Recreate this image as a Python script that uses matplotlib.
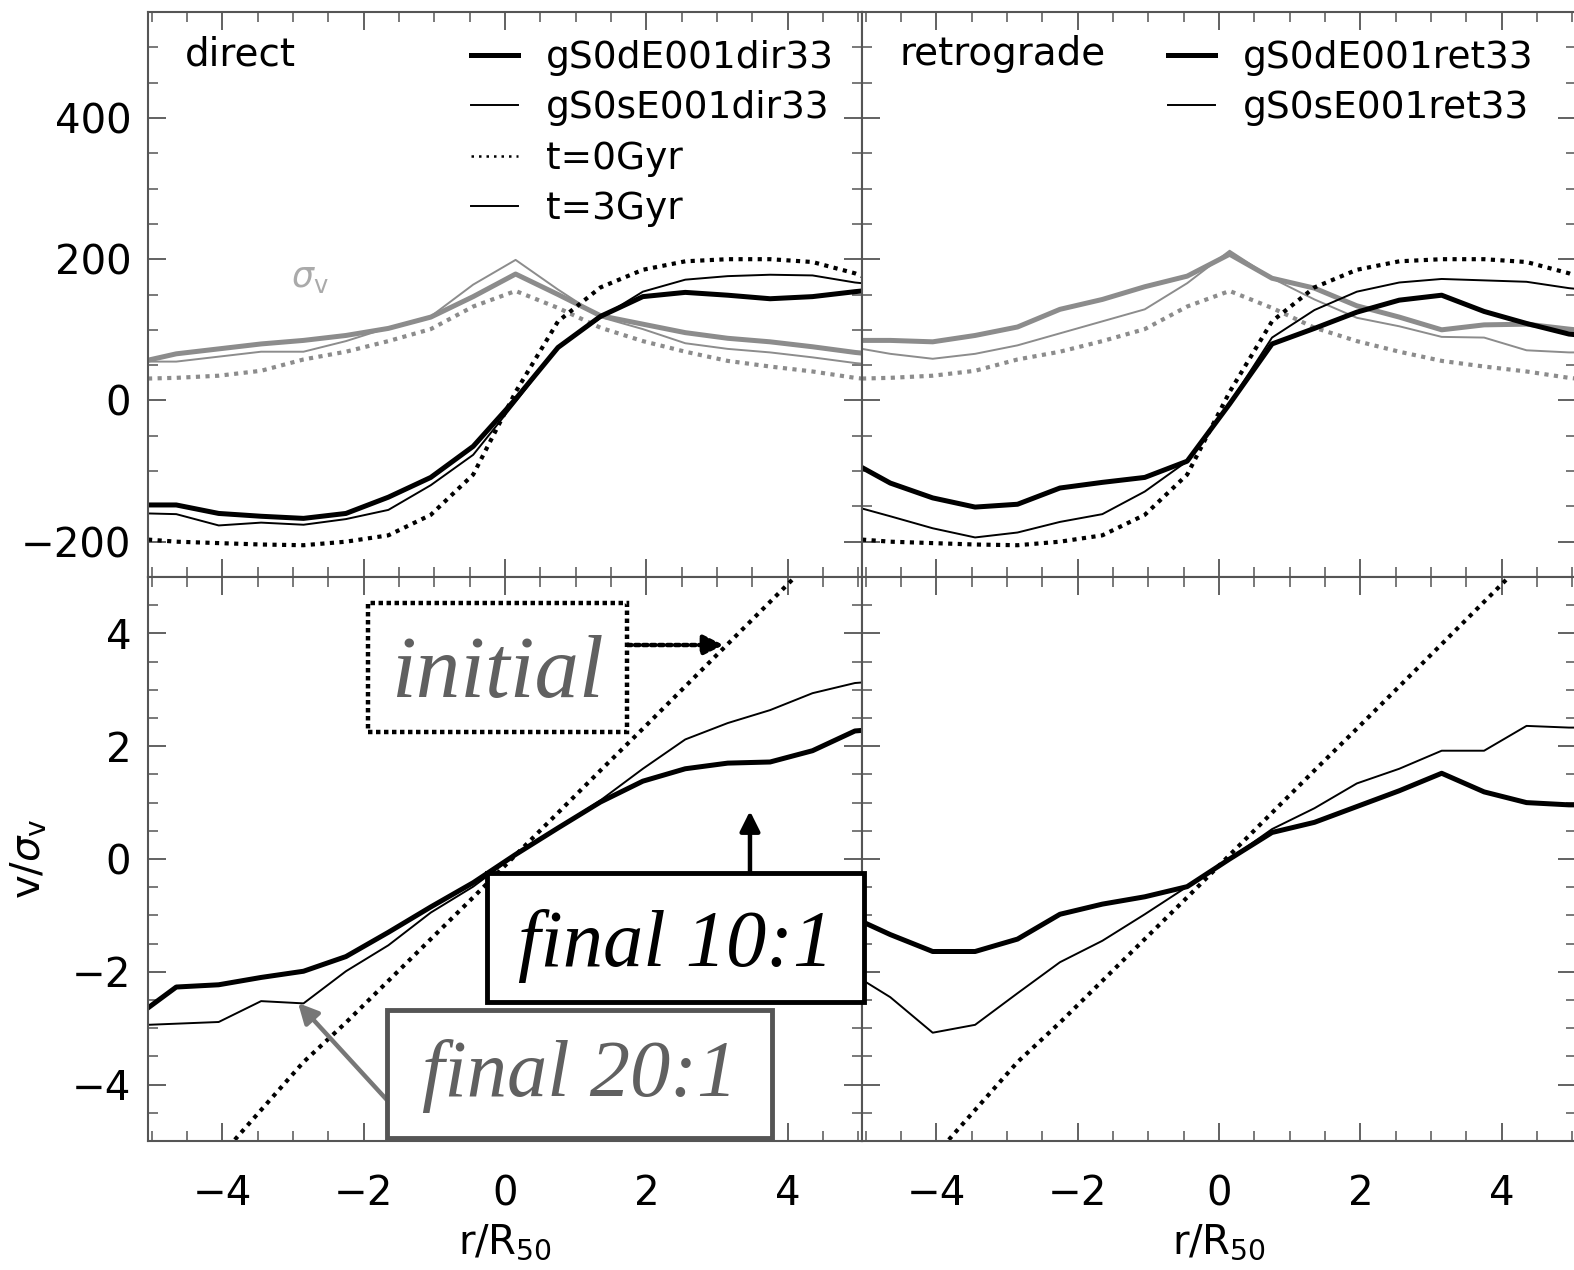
import numpy as np
import matplotlib.pyplot as plt
from matplotlib.lines import Line2D
from matplotlib.patches import Rectangle
from matplotlib.ticker import MultipleLocator

# radial bins (r/R50), same for all curves
r = [-5.05, -4.65, -4.05, -3.45, -2.85, -2.25, -1.65, -1.05, -0.45, 0.15,
     0.75, 1.35, 1.95, 2.55, 3.15, 3.75, 4.35, 4.95, 5.05]

# initial model (t=0Gyr)
v_init = [-197, -200, -202, -204, -205, -200, -191, -162, -105, 12,
          112, 160, 185, 197, 200, 200, 196, 180, 176]
s_init = [31, 32, 35, 42, 58, 69, 84, 101, 133, 155,
          131, 103, 84, 69, 56, 48, 41, 32, 31]
q_init = [-7.0, -6.2, -5.3, -4.45, -3.6, -2.9, -2.16, -1.42, -0.68, 0.07,
          0.82, 1.57, 2.31, 3.06, 3.81, 4.56, 5.31, 6.0, 6.1]

# direct, t=3Gyr
v_d_dir = [-148, -148, -160, -164, -167, -160, -137, -109, -65, 2,
           75, 119, 147, 153, 149, 144, 147, 154, 155]
v_s_dir = [-160, -161, -177, -173, -176, -168, -155, -120, -77, -2,
           75, 117, 154, 171, 176, 178, 177, 167, 166]
s_d_dir = [57, 66, 73, 80, 85, 92, 102, 118, 147, 179,
           150, 120, 108, 96, 88, 83, 76, 68, 67]
s_s_dir = [55, 55, 62, 69, 69, 84, 103, 119, 164, 199,
           157, 118, 101, 81, 73, 68, 61, 53, 52]
q_d_dir = [-2.64, -2.27, -2.23, -2.10, -1.99, -1.73, -1.30, -0.85, -0.42, 0.08,
           0.55, 1.01, 1.38, 1.60, 1.70, 1.72, 1.92, 2.27, 2.28]
q_s_dir = [-2.94, -2.92, -2.89, -2.52, -2.56, -1.99, -1.53, -0.95, -0.49, 0.07,
           0.55, 1.04, 1.60, 2.12, 2.41, 2.64, 2.94, 3.12, 3.13]

# retrograde, t=3Gyr
v_d_ret = [-95, -117, -138, -151, -147, -124, -116, -109, -86, -5,
           80, 102, 125, 142, 149, 126, 109, 94, 93]
v_s_ret = [-153, -164, -181, -194, -187, -172, -161, -129, -86, -4,
           89, 128, 154, 167, 172, 170, 168, 159, 158]
s_d_ret = [85, 85, 83, 92, 104, 129, 143, 161, 176, 207,
           173, 159, 134, 118, 100, 107, 108, 101, 100]
s_s_ret = [73, 66, 59, 66, 78, 95, 112, 129, 166, 212,
           173, 143, 117, 105, 90, 89, 71, 68, 68]
q_d_ret = [-1.11, -1.34, -1.64, -1.64, -1.42, -0.98, -0.80, -0.67, -0.49, 0.0,
           0.47, 0.65, 0.93, 1.21, 1.52, 1.19, 1.00, 0.96, 0.96]
q_s_ret = [-2.14, -2.45, -3.08, -2.94, -2.38, -1.83, -1.45, -0.98, -0.49, 0.0,
           0.53, 0.90, 1.34, 1.60, 1.92, 1.92, 2.36, 2.33, 2.33]

labels_dir = ['gS0dE001dir33', 'gS0sE001dir33', 't=0Gyr', 't=3Gyr']
labels_ret = ['gS0dE001ret33', 'gS0sE001ret33']

plt.rcParams['font.family'] = ['DejaVu Sans']

W, H = 1574, 1270
fig = plt.figure(figsize=(W/100, H/100), dpi=100)

def pbox(x0, y0, x1, y1):
    return [x0/W, 1 - y1/H, (x1 - x0)/W, (y1 - y0)/H]

ax_tl = fig.add_axes(pbox(148, 12, 862, 577))
ax_tr = fig.add_axes(pbox(862, 12, 1576, 577))
ax_bl = fig.add_axes(pbox(148, 577, 862, 1141))
ax_br = fig.add_axes(pbox(862, 577, 1576, 1141))

grey = '#8c8c8c'
thick = dict(color='k', lw=3.6)
thin = dict(color='k', lw=1.4)
dots = dict(color='k', lw=3.0, ls=(0, (1, 1.3)))
gthick = dict(color=grey, lw=3.6)
gthin = dict(color=grey, lw=1.4)
gdots = dict(color=grey, lw=3.0, ls=(0, (1, 1.3)))

# top panels: v and sigma
for ax, vd, vs, sd, ss in [(ax_tl, v_d_dir, v_s_dir, s_d_dir, s_s_dir),
                           (ax_tr, v_d_ret, v_s_ret, s_d_ret, s_s_ret)]:
    ax.plot(r, s_init, **gdots)
    ax.plot(r, ss, **gthin)
    ax.plot(r, sd, **gthick)
    ax.plot(r, v_init, **dots)
    ax.plot(r, vs, **thin)
    ax.plot(r, vd, **thick)
    ax.set_ylim(-250, 550)
    ax.yaxis.set_major_locator(MultipleLocator(200))
    ax.yaxis.set_minor_locator(MultipleLocator(50))

# bottom panels: v/sigma
for ax, qd, qs in [(ax_bl, q_d_dir, q_s_dir), (ax_br, q_d_ret, q_s_ret)]:
    ax.plot(r, q_init, **dots)
    ax.plot(r, qs, **thin)
    ax.plot(r, qd, **thick)
    ax.set_ylim(-5, 5)
    ax.yaxis.set_major_locator(MultipleLocator(2))
    ax.yaxis.set_minor_locator(MultipleLocator(0.5))

for ax in [ax_tl, ax_tr, ax_bl, ax_br]:
    ax.set_xlim(-5.05, 5.05)
    ax.xaxis.set_major_locator(MultipleLocator(2))
    ax.xaxis.set_minor_locator(MultipleLocator(0.5))
    ax.tick_params(which='both', direction='in', top=True, right=True,
                   color='#555555', labelsize=29)
    ax.tick_params(which='major', length=13, width=1.3)
    ax.tick_params(which='minor', length=7, width=1.1)
    ax.tick_params(axis='x', pad=24)
    ax.tick_params(axis='y', pad=12)
    for sp in ax.spines.values():
        sp.set_color('#555555')
        sp.set_linewidth(1.5)

for ax in [ax_tl, ax_tr]:
    ax.tick_params(labelbottom=False)
for ax in [ax_tr, ax_br]:
    ax.tick_params(labelleft=False)

ax_bl.set_xlabel(r'r/R$_{50}$', fontsize=29, labelpad=6)
ax_br.set_xlabel(r'r/R$_{50}$', fontsize=29, labelpad=6)
ax_bl.set_ylabel(r'v/$\sigma_{\rm v}$', fontsize=29, labelpad=16)

# legends
h_dir = [Line2D([], [], **thick), Line2D([], [], **thin),
         Line2D([], [], color='k', lw=1.8, ls=(0, (1, 2))), Line2D([], [], **thin)]
leg_kw = dict(loc='upper right', frameon=False, fontsize=27,
              handlelength=1.25, handletextpad=0.75, labelspacing=0.38,
              borderaxespad=0.55, borderpad=0.2)
ax_tl.legend(h_dir, labels_dir, **leg_kw)
h_ret = [Line2D([], [], **thick), Line2D([], [], **thin)]
ax_tr.legend(h_ret, labels_ret, bbox_to_anchor=(0.98, 1.0), **leg_kw)
ax_tl.text(0.052, 0.925, 'direct', transform=ax_tl.transAxes, fontsize=28,
           va='center', ha='left')
ax_tr.text(0.053, 0.925, 'retrograde', transform=ax_tr.transAxes, fontsize=28,
           va='center', ha='left')
ax_tl.text(0.2, 0.53, r'$\sigma_{\rm v}$', transform=ax_tl.transAxes,
           fontsize=25, color='#aaaaaa', va='center', ha='left')

# annotation boxes (axes fraction of lower-left panel)
hand = dict(family=['Liberation Serif', 'DejaVu Serif'], style='italic')
t = ax_bl.transAxes
fig.add_artist(Rectangle((0.3081, 0.7252), 0.3628, 0.2287, transform=t,
                         facecolor='white', edgecolor='k', lw=3.2,
                         ls=(0, (1, 0.8)), zorder=5))
fig.text(0.4895, 0.825, 'initial', transform=t, fontsize=64, color='#606060',
         ha='center', va='center', zorder=6, **hand)
fig.add_artist(Rectangle((0.4748, 0.2465), 0.528, 0.2287, transform=t,
                         facecolor='white', edgecolor='k', lw=3.5, zorder=5))
fig.text(0.7388, 0.345, 'final 10:1', transform=t, fontsize=58, color='k',
         ha='center', va='center', zorder=6, **hand)
fig.add_artist(Rectangle((0.3347, 0.0053), 0.5392, 0.227, transform=t,
                         facecolor='white', edgecolor='#555555', lw=3.5, zorder=5))
fig.text(0.6043, 0.115, 'final 20:1', transform=t, fontsize=58, color='#606060',
         ha='center', va='center', zorder=6, **hand)

ax_bl.annotate('', xy=(0.806, 0.8794), xytext=(0.6709, 0.8794), xycoords=t,
               arrowprops=dict(arrowstyle='-|>', color='k', lw=3.2,
                               ls=(0, (1, 0.8)), mutation_scale=30,
                               shrinkA=0, shrinkB=0))
ax_bl.annotate('', xy=(0.8431, 0.585), xytext=(0.8431, 0.4752), xycoords=t,
               arrowprops=dict(arrowstyle='-|>', color='k', lw=3.2,
                               mutation_scale=30, shrinkA=0, shrinkB=0))
ax_bl.annotate('', xy=(0.2101, 0.2447), xytext=(0.3347, 0.0727), xycoords=t,
               arrowprops=dict(arrowstyle='-|>', color='#777777', lw=3.2,
                               mutation_scale=30, shrinkA=0, shrinkB=0))

fig.savefig('out.png', dpi=100)
